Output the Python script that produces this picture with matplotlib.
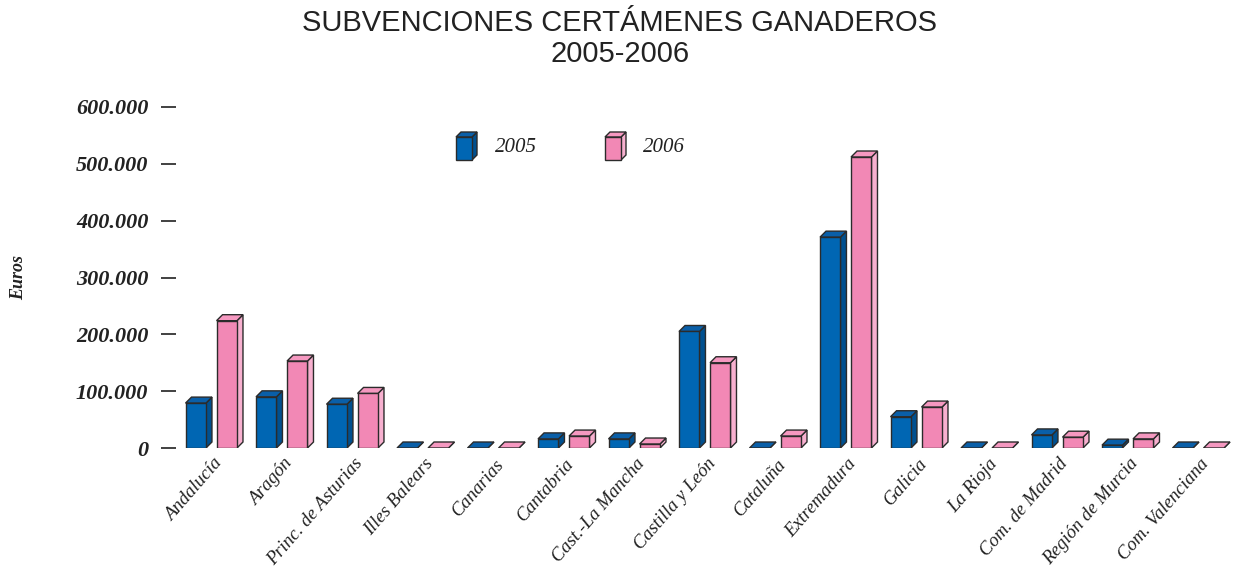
import matplotlib
matplotlib.use("Agg")
import matplotlib.pyplot as plt
from matplotlib.patches import Polygon
import numpy as np

regions = ["Andalucía", "Aragón", "Princ. de Asturias", "Illes Balears", "Canarias",
           "Cantabria", "Cast.-La Mancha", "Castilla y León", "Cataluña", "Extremadura",
           "Galicia", "La Rioja", "Com. de Madrid", "Región de Murcia", "Com. Valenciana"]
v2005 = [79000, 90000, 77000, 0, 0, 16000, 16000, 205000, 0, 371000,
         55000, 0, 23000, 5000, 0]
v2006 = [224000, 153000, 96000, 0, 0, 21000, 7000, 150000, 21000, 512000,
         72000, 0, 19000, 16000, 0]
yticks = [0, 100000, 200000, 300000, 400000, 500000, 600000]
ytick_labels = ["0", "100.000", "200.000", "300.000", "400.000", "500.000", "600.000"]
years = ["2005", "2006"]

W, H = 1236, 572
fig = plt.figure(figsize=(W / 100, H / 100), dpi=100)

# axes placed in pixel terms
left_px, right_px, bottom_px, top_px = 176, 1236, 448, 107
ax = fig.add_axes([left_px / W, (H - bottom_px) / H,
                   (right_px - left_px) / W, (bottom_px - top_px) / H])
ax.set_ylim(0, 600000)
ax.set_xlim(-0.5, -0.5 + (right_px - left_px) / 70.5)

colors = {
    "2005": ("#0066b3", "#0a5fa8", "#00508f"),   # front, top, side
    "2006": ("#f288b5", "#f598c0", "#f7b0cf"),
}
edge = "#2b2b2b"

# depth of the fake 3D in data units (~6 px each way)
px_x = 1 / 70.5
px_y = 600000 / (bottom_px - top_px)
dx, dy = 6 * px_x, 6 * px_y
bw = 0.29
offs = [-0.22, 0.22]


def box(ax, x0, w, h, ddx, ddy, cols, transform=None, base=0.0):
    front, topc, side = cols
    kw = dict(edgecolor=edge, linewidth=1.0, joinstyle="miter")
    if transform is not None:
        kw["transform"] = transform
    ax.add_patch(Polygon([(x0 + w, base), (x0 + w + ddx, base + ddy),
                          (x0 + w + ddx, base + h + ddy), (x0 + w, base + h)],
                         facecolor=side, **kw))
    ax.add_patch(Polygon([(x0, base + h), (x0 + w, base + h),
                          (x0 + w + ddx, base + h + ddy), (x0 + ddx, base + h + ddy)],
                         facecolor=topc, **kw))
    if h > 0:
        ax.add_patch(Polygon([(x0, base), (x0 + w, base), (x0 + w, base + h), (x0, base + h)],
                             facecolor=front, **kw))


x = np.arange(len(regions))
for k, (yr, vals) in enumerate(zip(years, [v2005, v2006])):
    for xi, v in zip(x, vals):
        box(ax, xi + offs[k] - bw / 2, bw, v, dx, dy, colors[yr])

for s in ax.spines.values():
    s.set_visible(False)
ax.set_xticks([])
ax.set_yticks(yticks)
ax.set_yticklabels(ytick_labels, fontfamily="Liberation Serif", fontweight="bold",
                   fontstyle="italic", fontsize=16, color="#222222")
ax.tick_params(axis="y", direction="out", length=11, width=1.3, pad=9, color="#333333")

for xi, name in zip(x, regions):
    ax.text(xi + 0.02, -13000, name, rotation=49, rotation_mode="anchor",
            ha="right", va="top", fontfamily="Liberation Serif", fontstyle="italic",
            fontsize=13.5, color="#222222")

fig.text(19 / W, (H - 278) / H, "Euros", rotation=90, ha="center", va="center",
         fontfamily="Liberation Serif", fontweight="bold", fontstyle="italic",
         fontsize=13, color="#222222")

fig.text(620 / W, (H - 9) / H, "SUBVENCIONES CERTÁMENES GANADEROS\n2005-2006",
         ha="center", va="top", fontfamily="Liberation Sans",
         fontsize=21, linespacing=1.12, color="#222222")

# legend: small boxes drawn in inches on the figure
for yr, lx, tx in [("2005", 456, 495), ("2006", 605, 643)]:
    tr = fig.dpi_scale_trans
    box(ax, lx / 100, 16 / 100, 23 / 100, 5 / 100, 5 / 100, colors[yr],
        transform=tr, base=(H - 160) / 100)
    fig.text(tx / W, (H - 148) / H, yr, ha="left", va="center",
             fontfamily="Liberation Serif", fontstyle="italic", fontsize=15, color="#222222")

fig.savefig("out.png", dpi=100)
